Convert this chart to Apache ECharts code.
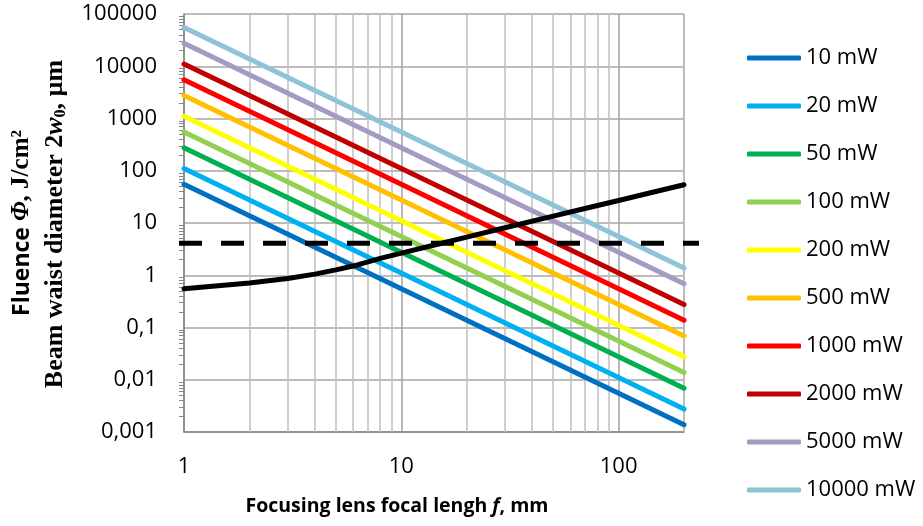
<!DOCTYPE html>
<html>
<head>
<meta charset="utf-8">
<script src="https://cdn.jsdelivr.net/npm/echarts@6/dist/echarts.min.js"></script>
<style>
  html, body { margin: 0; padding: 0; background: #fff; }
  #chart { width: 923px; height: 526px; }
</style>
</head>
<body>
<div id="chart"></div>
<script>
// focal length, mm
var focal = [1, 10, 100, 200]
// fluence at each focal length, J/cm2
var power = ['10 mW', '20 mW', '50 mW', '100 mW', '200 mW', '500 mW', '1000 mW', '2000 mW', '5000 mW', '10000 mW']
var fluence = [
  [55, 0.55, 0.0055, 0.00138],
  [110, 1.1, 0.011, 0.00275],
  [275, 2.75, 0.0275, 0.0069],
  [550, 5.5, 0.055, 0.0138],
  [1100, 11, 0.11, 0.0275],
  [2750, 27.5, 0.275, 0.069],
  [5500, 55, 0.55, 0.138],
  [11000, 110, 1.1, 0.275],
  [27500, 275, 2.75, 0.69],
  [55000, 550, 5.5, 1.38]
]
var colors = ['#0070C0', '#00B0F0', '#00B050', '#92D050', '#FFFF00', '#FFC000', '#FF0000', '#C00000', '#A59BC2', '#8FC3D7']

// beam waist diameter 2w0, um
var waistF = [1, 2, 3, 4, 5, 6, 8, 10, 15, 20, 30, 50, 70, 100, 150, 200]
var waist = [0.55, 0.71, 0.87, 1.05, 1.27, 1.5, 2.1, 2.65, 4.0, 5.35, 8.1, 13.5, 18.9, 27, 40.5, 54]

// threshold (dashed), runs a bit past the plot on both sides
var thresholdF = [1, 240]
var threshold = 4.1

// minor vertical grid lines
var minorX = [2, 3, 4, 5, 6, 7, 8, 9, 20, 30, 40, 50, 60, 70, 80, 90, 200]

var font = '"Open Sans", "Noto Sans", sans-serif'
var serif = '"Liberation Serif", "DejaVu Serif", serif'

var series = []
for (var i = 0; i < power.length; i++) {
  var d = []
  for (var j = 0; j < focal.length; j++) {
    d.push([focal[j], fluence[i][j]])
  }
  series.push({
    name: power[i],
    type: 'line',
    data: d,
    symbol: 'none',
    lineStyle: { color: colors[i], width: 5, cap: 'round' },
    itemStyle: { color: colors[i] },
    z: 3
  })
}

var wd = []
for (var k = 0; k < waistF.length; k++) wd.push([waistF[k], waist[k]])
series.push({
  name: 'waist',
  type: 'line',
  data: wd,
  symbol: 'none',
  lineStyle: { color: '#000', width: 5, cap: 'round' },
  z: 4,
  markLine: {
    silent: true,
    symbol: 'none',
    label: { show: false },
    lineStyle: { color: '#BFBFBF', width: 1.5, type: 'solid' },
    data: minorX.map(function (v) { return { xAxis: v } }),
    z: 1
  }
})

series.push({
  name: 'threshold',
  type: 'line',
  xAxisIndex: 1,
  yAxisIndex: 1,
  data: [[thresholdF[0], threshold], [thresholdF[1], threshold]],
  symbol: 'none',
  lineStyle: { color: '#000', width: 5, type: [23, 19] },
  z: 4
})

var option = {
  animation: false,
  grid: [
    { left: 184, top: 14, right: 239, bottom: 94 },
    { left: 179, top: 14, right: 224, bottom: 94 }
  ],
  legend: {
    data: power,
    orient: 'vertical',
    left: 742,
    top: 41,
    icon: 'roundRect',
    itemWidth: 54,
    itemHeight: 5,
    itemGap: 24,
    textStyle: { fontFamily: font, fontSize: 22, color: '#000', lineHeight: 24 }
  },
  xAxis: [{
    type: 'log',
    min: 1,
    max: 200,
    axisLine: { lineStyle: { color: '#868686', width: 1.5 } },
    axisTick: { show: false },
    axisLabel: { fontFamily: font, fontSize: 22, color: '#000', margin: 24, showMaxLabel: false },
    splitLine: { lineStyle: { color: '#A0A0A0', width: 1.5 } }
  }, {
    type: 'log',
    gridIndex: 1,
    min: 1,
    max: 240,
    show: false
  }],
  yAxis: [{
    type: 'log',
    min: 0.001,
    max: 100000,
    axisLine: { show: true, lineStyle: { color: '#868686', width: 1.5 } },
    axisTick: { show: false },
    minorTick: { show: true, splitNumber: 9, length: 5, lineStyle: { color: '#868686' } },
    axisLabel: {
      fontFamily: font, fontSize: 22, color: '#000', margin: 27,
      formatter: function (v) { return String(+v.toPrecision(6)).replace('.', ',') }
    },
    splitLine: { lineStyle: { color: '#A6A6A6', width: 1.5 } }
  }, {
    type: 'log',
    gridIndex: 1,
    min: 0.001,
    max: 100000,
    show: false
  }],
  graphic: [
    {
      type: 'text',
      x: 22, y: 223,
      rotation: Math.PI / 2,
      style: {
        text: '{a|Fluence }{b|Φ}{c|, J/cm²}',
        align: 'center',
        verticalAlign: 'middle',
        rich: {
          a: { fontFamily: font, fontWeight: 'bold', fontSize: 23, fill: '#000' },
          b: { fontFamily: serif, fontStyle: 'italic', fontWeight: 'bold', fontSize: 25, fill: '#000' },
          c: { fontFamily: serif, fontWeight: 'bold', fontSize: 25, fill: '#000' }
        }
      }
    },
    {
      type: 'text',
      x: 55, y: 224,
      rotation: Math.PI / 2,
      style: {
        text: '{c|Beam waist diameter 2}{b|w}{s|0}{c|, µm}',
        align: 'center',
        verticalAlign: 'middle',
        rich: {
          b: { fontFamily: serif, fontStyle: 'italic', fontWeight: 'bold', fontSize: 26, fill: '#000' },
          c: { fontFamily: serif, fontWeight: 'bold', fontSize: 26, fill: '#000' },
          s: { fontFamily: serif, fontWeight: 'bold', fontSize: 16, fill: '#000', padding: [12, 0, 0, 0] }
        }
      }
    },
    {
      type: 'text',
      x: 397, y: 506,
      style: {
        text: '{a|Focusing lens focal lengh }{b|f}{a|, mm}',
        align: 'center',
        verticalAlign: 'middle',
        rich: {
          a: { fontFamily: font, fontWeight: 'bold', fontSize: 19.5, fill: '#000' },
          b: { fontFamily: font, fontWeight: 'bold', fontStyle: 'italic', fontSize: 19.5, fill: '#000' }
        }
      }
    }
  ],
  series: series
}

var chart = echarts.init(document.getElementById('chart'))
chart.setOption(option)
</script>
</body>
</html>
